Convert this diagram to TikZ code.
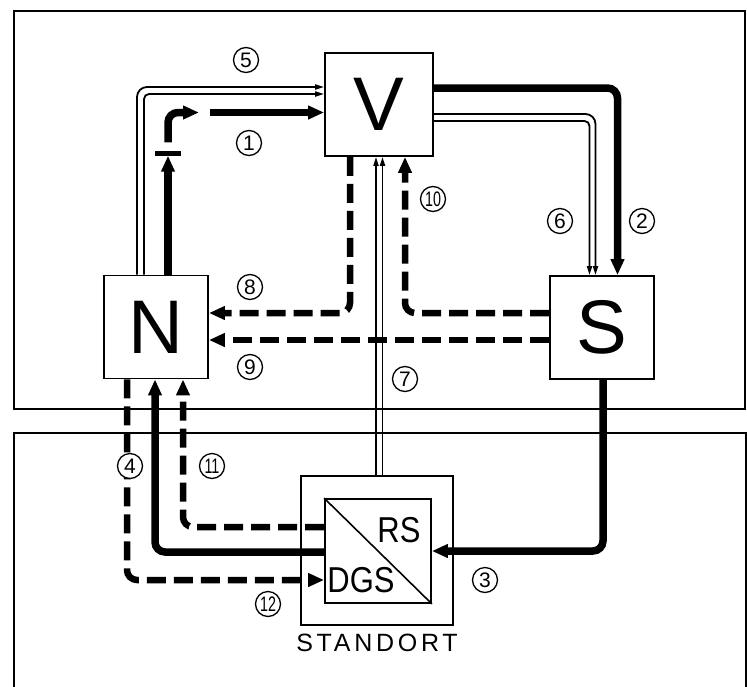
\documentclass[tikz,border=0pt]{standalone}
\usepackage{fontspec}
\usepackage{graphicx}
\setmainfont{Liberation Sans}
\usetikzlibrary{positioning,arrows.meta,calc}

\begin{document}
\begin{tikzpicture}[x=1pt, y=-1pt,
                    box/.style={rectangle, draw, line width=1.8pt, inner sep=0pt, minimum width=104pt, minimum height=103pt, font=\fontsize{76}{76}\selectfont},
                    frame/.style={rectangle, draw, line width=1.8pt, inner sep=0pt},
                    num/.style={circle, draw, line width=1.3pt, fill=white, inner sep=0pt, minimum size=25pt, font=\fontsize{21}{21}\selectfont},
                    power/.style={line width=7.5pt, rounded corners=10pt, -{Triangle[length=16pt,width=13pt]}},
                    signal/.style={power, line width=6.5pt, dash pattern=on 19pt off 8pt},
                    rail/.style={line width=1.8pt, rounded corners=8pt, -{Triangle[length=9pt,width=5pt]}},
                    panel/.style={line width=2pt}]
  \useasboundingbox (0,0) rectangle (747,686);

  % two panels
  \draw[panel] (14,11) rectangle (745,409);
  \draw[panel] (14,690) -- (14,433) -- (746,433) -- (746,690);

  % main blocks
  \node[box, minimum width=108pt] (V) at (379,104.5) {V};
  \node[box] (N) at (156,327) {N};
  \node[box] (S) at (602,327.5) {S};

  % site with converter
  \node[frame, minimum width=152pt, minimum height=149pt] (site) at (377,550.5) {};
  \node[frame, minimum width=106pt, minimum height=104pt] (conv) at (378,551) {};
  \draw[line width=1.6pt] (conv.north west) -- (conv.south east);
  \node[font=\fontsize{36}{36}\selectfont, xscale=0.86, inner sep=0pt] (rs) at (399,530) {RS};
  \node[font=\fontsize{36}{36}\selectfont, xscale=0.86, inner sep=0pt] (dgs) at (361,580) {DGS};
  \node[font=\fontsize{25}{25}\selectfont\addfontfeatures{LetterSpace=15}, inner sep=0pt] (standort) at (377,643) {STANDORT};

  % (5) and (1): N to V
  \draw[rail, rounded corners=10pt] ($(N.north)+(-19,0)$) |- ($(V.west)+(0,-17.5)$);
  \draw[rail, rounded corners=5pt] ($(N.north)+(-12,0)$) |- ($(V.west)+(0,-10.5)$);
  \node[fill, minimum width=26pt, minimum height=5pt, inner sep=0pt] (brk) at (168,153) {};
  \draw[power] ($(N.north)+(12,0)$) -- (brk.south);
  \coordinate (gapa) at (199,112.5);
  \coordinate (gapb) at (210,112.5);
  \draw[power] ($(brk.north)+(0,-8)$) |- (gapa);
  \draw[power] (gapb) -- (V.west |- gapb);

  % (2) and (6): V to S
  \draw[power] ($(V.east)+(0,-16.5)$) -| ($(S.north)+(15.5,0)$);
  \draw[rail, rounded corners=10pt] ($(V.east)+(0,9.5)$) -| ($(S.north)+(-6.5,0)$);
  \draw[rail, rounded corners=5pt] ($(V.east)+(0,16.5)$) -| ($(S.north)+(-12.5,0)$);

  % (8), (9), (10): reports
  \draw[signal] ($(S.west)+(0,-14.5)$) -| ($(V.south)+(26,0)$);
  \draw[signal] ($(V.south)+(-29,0)$) |- ($(N.east)+(0,-14)$);
  \draw[signal] ($(S.west)+(0,12.5)$) -- ($(N.east)+(0,13)$);

  % (7): site to V
  \coordinate (ra) at ($(V.south)+(-3,0)$);
  \coordinate (rb) at ($(V.south)+(3.5,0)$);
  \draw[rail] (ra |- site.north) -- (ra);
  \draw[rail] (rb |- site.north) -- (rb);

  % (3), (4), (11), (12): site links
  \draw[power] ($(S.south)+(1,0)$) |- (conv.east);
  \draw[power] ($(conv.west)+(0,1)$) -| ($(N.south)+(-1,0)$);
  \draw[signal] ($(conv.west)+(0,-24)$) -| ($(N.south)+(27,0)$);
  \draw[signal] ($(N.south)+(-29,0)$) |- ($(conv.west)+(0,29)$);

  % numbers
  \node[num] (n1) at (249,143) {1};
  \node[num] (n2) at (642,221) {2};
  \node[num] (n3) at (485,580) {3};
  \node[num] (n4) at (130,466) {4};
  \node[num] (n5) at (246,60) {5};
  \node[num] (n6) at (560,221) {6};
  \node[num] (n7) at (405,379) {7};
  \node[num] (n8) at (250,287) {8};
  \node[num] (n9) at (250,367) {9};
  \node[num] (n10) at (433,199) {\scalebox{0.68}[1]{10}};
  \node[num] (n11) at (212,466) {\scalebox{0.68}[1]{11}};
  \node[num] (n12) at (268,604) {\scalebox{0.68}[1]{12}};
\end{tikzpicture}
\end{document}
